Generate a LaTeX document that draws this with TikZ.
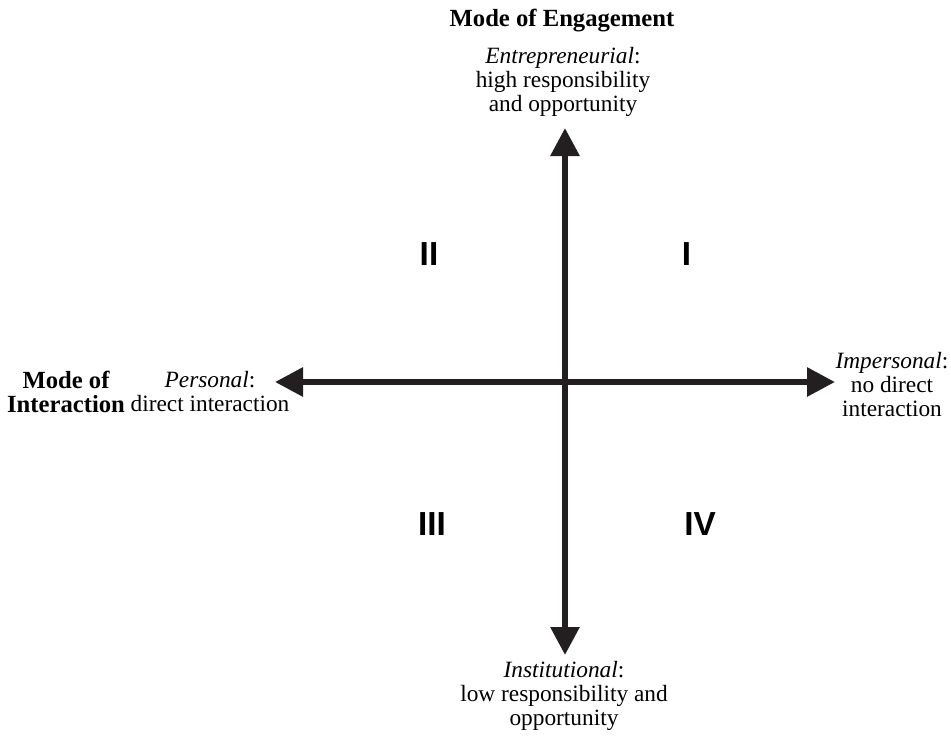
\documentclass[tikz,border=0pt]{standalone}
\usepackage{fontspec}
\setmainfont{Liberation Serif}
\newfontfamily\numfont{Liberation Sans}
\usetikzlibrary{arrows.meta}
\definecolor{axiscol}{HTML}{231F20}
\begin{document}
\begin{tikzpicture}[x=0.75pt,y=-0.75pt,
  axis/.style={line width=4.5pt,color=axiscol,{Triangle[length=21pt,width=21pt]}-{Triangle[length=21pt,width=21pt]}},
  lbl/.style={align=center,inner sep=0pt,font=\fontsize{17.5pt}{18pt}\selectfont},
  ttl/.style={align=center,inner sep=0pt,font=\fontsize{18.5pt}{18pt}\selectfont\bfseries},
  quad/.style={inner sep=0pt,font=\fontsize{25pt}{30pt}\selectfont\numfont\bfseries}]
\useasboundingbox (0,0) rectangle (951,736);
\coordinate (top) at (565,128);
\coordinate (bot) at (565,655);
\coordinate (lft) at (275,382);
\coordinate (rgt) at (835,382);
\draw[axis] (bot) -- (top);
\draw[axis] (lft) -- (rgt);
\node[ttl,anchor=base] (eng) at (562,26) {Mode of Engagement};
\node[lbl] (entr) at (563,81.5) {\textit{Entrepreneurial}:\\high responsibility\\and opportunity};
\node[ttl] (int) at (66,392) {Mode of\\Interaction};
\node[lbl] (pers) at (210,392) {\textit{Personal}:\\direct interaction};
\node[lbl] (imp) at (892,385) {\textit{Impersonal}:\\no direct\\interaction};
\node[lbl] (inst) at (564,696) {\textit{Institutional}:\\low responsibility and\\opportunity};
\node[quad] (q2) at (429,254) {II};
\node[quad] (q1) at (686.5,254) {I};
\node[quad] (q3) at (432,524) {III};
\node[quad] (q4) at (700,524) {IV};
\end{tikzpicture}
\end{document}
